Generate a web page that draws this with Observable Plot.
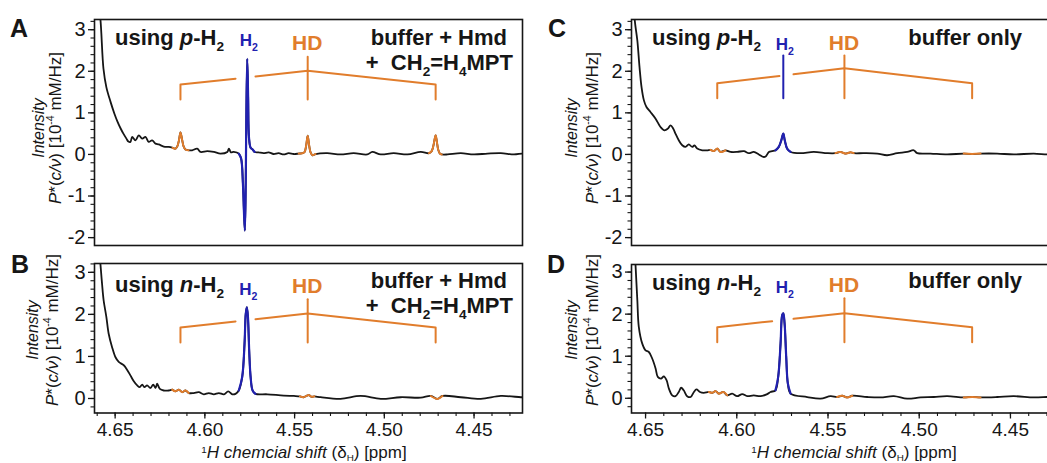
<!DOCTYPE html>
<html><head><meta charset="utf-8">
<script src="https://cdn.jsdelivr.net/npm/d3@7"></script>
<script src="https://cdn.jsdelivr.net/npm/@observablehq/plot@0.6"></script>
<style>
html,body{margin:0;padding:0;background:#fff;overflow:hidden;}
#root{position:relative;width:1047px;height:463px;overflow:hidden;font-family:"Liberation Sans",Arial,sans-serif;}
#root svg{position:absolute;}
</style></head><body><div id="root"></div>
<script>
// ---------- data (ppm, intensity) ----------
const specA = [
[4.6600,3.90],[4.6582,3.25],[4.6565,2.06],[4.6549,1.62],[4.6526,1.27],[4.6504,0.98],[4.6487,0.79],[4.6470,0.63],[4.6454,0.50],[4.6437,0.38],[4.6426,0.31],[4.6415,0.30],
[4.6405,0.42],[4.6387,0.34],[4.6368,0.46],[4.6349,0.38],[4.6331,0.42],[4.6313,0.30],[4.6294,0.34],[4.6275,0.26],[4.6257,0.24],[4.6229,0.19],[4.6201,0.18],
[4.6180,0.16],[4.6164,0.14],[4.6153,0.20],[4.6144,0.35],[4.6136,0.53],[4.6127,0.36],[4.6119,0.20],[4.6108,0.12],[4.6091,0.10],
[4.6071,0.10],[4.6043,0.14],[4.6024,0.06],[4.5987,0.08],[4.5950,0.06],[4.5913,0.02],[4.5875,0.06],[4.5866,0.14],[4.5855,0.05],[4.5839,0.06],[4.5811,0.02],
[4.5798,-0.10],[4.5788,-0.70],[4.5782,-1.40],[4.5777,-1.83],[4.5772,-0.60],[4.5769,0.90],[4.5764,2.30],[4.5759,1.40],[4.5754,0.40],[4.5745,0.16],[4.5734,0.12],[4.5723,0.06],
[4.5701,0.05],[4.5673,0.03],[4.5645,0.05],[4.5617,0.01],[4.5589,0.03],[4.5561,0.00],[4.5533,0.03],[4.5505,0.01],[4.5477,0.02],[4.5456,0.03],
[4.5444,0.06],[4.5436,0.20],[4.5427,0.45],[4.5419,0.22],[4.5411,0.05],[4.5400,-0.02],[4.5383,0.01],
[4.5318,0.03],[4.5244,0.00],[4.5171,0.03],[4.5095,0.00],[4.5067,0.06],[4.5020,0.00],[4.4948,0.03],[4.4871,0.00],[4.4797,0.06],[4.4751,0.03],
[4.4736,0.08],[4.4727,0.20],[4.4720,0.36],[4.4714,0.46],[4.4707,0.30],[4.4700,0.12],[4.4690,0.02],[4.4680,0.00],
[4.4648,0.00],[4.4574,0.03],[4.4502,0.00],[4.4425,0.02],[4.4351,0.03],[4.4277,0.00],[4.4230,0.02],[4.4220,0.01]
];
const specB = [
[4.6600,4.20],[4.6582,3.20],[4.6573,2.73],[4.6564,2.33],[4.6549,1.94],[4.6536,1.54],[4.6517,1.22],[4.6498,0.98],[4.6480,0.87],[4.6452,0.79],[4.6433,0.68],[4.6415,0.55],[4.6396,0.41],[4.6377,0.31],[4.6363,0.27],[4.6349,0.33],[4.6337,0.27],[4.6322,0.31],[4.6303,0.25],[4.6288,0.33],[4.6275,0.25],[4.6266,0.35],[4.6251,0.23],[4.6229,0.19],[4.6201,0.19],
[4.6182,0.21],[4.6164,0.17],[4.6145,0.21],[4.6126,0.15],[4.6108,0.19],[4.6090,0.13],
[4.6062,0.13],[4.6034,0.15],[4.6006,0.10],[4.5978,0.13],[4.5950,0.10],[4.5922,0.13],[4.5894,0.10],[4.5870,0.17],[4.5847,0.10],[4.5829,0.11],
[4.5811,0.19],[4.5792,0.51],[4.5779,1.30],[4.5772,2.02],[4.5766,2.17],[4.5760,1.94],[4.5753,1.14],[4.5745,0.51],[4.5734,0.19],[4.5718,0.11],
[4.5652,0.10],[4.5560,0.07],[4.5504,0.06],
[4.5470,0.05],[4.5450,0.03],[4.5435,0.06],[4.5420,0.08],[4.5405,0.04],[4.5390,0.05],
[4.5355,0.03],[4.5244,-0.01],[4.5132,0.06],[4.5020,-0.01],[4.4909,0.03],[4.4797,0.02],[4.4741,0.06],[4.4704,-0.01],[4.4676,0.06],[4.4574,0.03],[4.4462,-0.01],[4.4351,0.06],[4.4239,0.03],[4.4220,0.03]
];
const specC = [
[4.6575,4.20],[4.6559,3.22],[4.6545,2.74],[4.6533,2.10],[4.6522,1.62],[4.6509,1.30],[4.6495,1.14],[4.6473,1.02],[4.6445,0.86],[4.6418,0.66],[4.6396,0.58],[4.6378,0.62],[4.6363,0.70],[4.6348,0.62],[4.6336,0.50],[4.6318,0.34],[4.6299,0.22],[4.6281,0.18],[4.6263,0.24],[4.6244,0.18],[4.6232,0.22],[4.6217,0.14],[4.6189,0.10],[4.6162,0.10],
[4.6144,0.11],[4.6126,0.08],[4.6107,0.14],[4.6089,0.06],[4.6062,0.10],
[4.6034,0.06],[4.5998,0.06],[4.5961,0.08],[4.5934,0.03],[4.5907,0.06],[4.5879,0.00],[4.5855,-0.06],[4.5842,-0.05],[4.5824,0.06],[4.5806,0.08],
[4.5788,0.10],[4.5770,0.18],[4.5756,0.34],[4.5745,0.50],[4.5737,0.34],[4.5724,0.14],[4.5705,0.06],
[4.5651,0.03],[4.5578,0.06],[4.5504,0.03],
[4.5459,0.03],[4.5432,0.06],[4.5404,0.02],[4.5377,0.05],[4.5359,0.03],
[4.5304,0.03],[4.5230,0.02],[4.5176,-0.02],[4.5121,0.03],[4.5066,0.06],[4.5030,0.10],[4.5011,0.03],[4.4938,0.02],[4.4847,0.00],
[4.4756,0.02],[4.4710,0.01],[4.4664,0.02],
[4.4573,0.02],[4.4482,0.00],[4.4372,0.02],[4.4299,0.00],[4.4280,0.01]
];
const specD = [
[4.6570,4.30],[4.6555,3.17],[4.6545,2.33],[4.6537,1.70],[4.6518,1.30],[4.6500,1.14],[4.6482,1.10],[4.6463,0.94],[4.6445,0.71],[4.6433,0.51],[4.6414,0.47],[4.6400,0.52],[4.6385,0.43],[4.6372,0.23],[4.6354,0.07],[4.6336,0.05],[4.6318,0.15],[4.6305,0.25],[4.6291,0.19],[4.6272,0.05],[4.6253,0.03],[4.6235,0.15],[4.6221,0.21],[4.6202,0.15],[4.6181,0.13],
[4.6153,0.15],[4.6135,0.13],[4.6116,0.17],[4.6098,0.11],[4.6074,0.15],[4.6052,0.07],
[4.6025,0.11],[4.5998,0.05],[4.5970,0.10],[4.5943,0.05],[4.5907,0.07],[4.5870,0.05],[4.5833,0.10],[4.5815,0.15],
[4.5788,0.19],[4.5773,0.51],[4.5760,1.30],[4.5751,1.98],[4.5745,2.02],[4.5738,1.78],[4.5729,0.98],[4.5720,0.35],[4.5705,0.11],
[4.5614,0.03],[4.5541,-0.01],[4.5486,0.05],
[4.5450,0.03],[4.5422,0.06],[4.5395,0.02],[4.5367,0.06],
[4.5285,0.03],[4.5212,0.02],[4.5139,0.05],[4.5066,-0.01],[4.4993,0.02],[4.4920,0.03],[4.4847,0.05],
[4.4756,0.02],[4.4710,0.03],[4.4664,0.02],
[4.4573,0.03],[4.4482,0.05],[4.4372,0.02],[4.4299,0.03],[4.4280,0.03]
];

// HD triplet positions and H2 positions (ppm)
const hdA = [4.6136, 4.5427, 4.4714], h2A = 4.5764;
const hdB = [4.6136, 4.5427, 4.4714], h2B = 4.5766;
const hdC = [4.6107, 4.5410, 4.4710], h2C = 4.5745;
const hdD = [4.6107, 4.5410, 4.4710], h2D = 4.5745;
// bracket levels: foot, shoulder, apex, stem top
const bracketA = [1.32, 1.68, 2.01, 2.35];
const bracketB = [1.33, 1.69, 2.02, 2.36];
const bracketC = [1.35, 1.71, 2.07, 2.38];
const bracketD = [1.33, 1.69, 2.02, 2.38];
// bracket gap around H2 (ppm)
const gapA = [4.5829, 4.5718], gapB = [4.5829, 4.5718], gapC = [4.5766, 4.5689], gapD = [4.5806, 4.5689];
const h2StemC = [1.35, 2.38];

// ticks
const yTicksFull = [-2, -1, 0, 1, 2, 3];
const yTicksPos = [0, 1, 2, 3];
const yMinorAll = d3.range(-22, 33, 2).map(v => v / 10);
const xTicks = [4.65, 4.60, 4.55, 4.50, 4.45];
const xMinorAll = d3.range(442, 467).map(v => v / 100);

// ---------- styling / layout ----------
const ink = "#161616", orange = "#e17d2c", blue = "#2121b0";
const FONT = "Liberation Sans, Arial, sans-serif";

const panels = [
  {key:"A", spec:specA, hd:hdA, h2:h2A, br:bracketA, gap:gapA, stem:null,
   left:0, top:0, width:530, height:252, mL:94, mR:8, mT:19, mB:7,
   x:[4.6615, 4.4230], y:[-2.19, 3.245], yMajor:yTicksFull, xAxis:false,
   letter:[10,37], gas:"p", gasPos:[115,45], cond:[["buffer + Hmd"],["+  CH",{t:"2",sub:true},"=H",{t:"4",sub:true},"MPT"]], condPos:[[507,45],[513,70]],
   h2Y:46, hdY:50, ylab:{c:128, x1:44, x2:61}, xlab:null},
  {key:"B", spec:specB, hd:hdB, h2:h2B, br:bracketB, gap:gapB, stem:null,
   left:0, top:250, width:530, height:213, mL:94, mR:8, mT:13, mB:50.5,
   x:[4.6615, 4.4230], y:[-0.345, 3.21], yMajor:yTicksPos, xAxis:true,
   letter:[11,273], gas:"n", gasPos:[115,292], cond:[["buffer + Hmd"],["+  CH",{t:"2",sub:true},"=H",{t:"4",sub:true},"MPT"]], condPos:[[507,288],[513,313]],
   h2Y:295, hdY:293, ylab:{c:330, x1:38, x2:58}, xlab:[304,458]},
  {key:"C", spec:specC, hd:hdC, h2:h2C, br:bracketC, gap:gapC, stem:h2StemC,
   left:540, top:0, width:515, height:252, mL:91, mR:6, mT:19, mB:7,
   x:[4.6577, 4.4286], y:[-2.19, 3.245], yMajor:yTicksFull, xAxis:false,
   letter:[548,37], gas:"p", gasPos:[652,45], cond:[["buffer only"]], condPos:[[1022,45]],
   h2Y:50, hdY:50, ylab:{c:128, x1:577, x2:598}, xlab:null},
  {key:"D", spec:specD, hd:hdD, h2:h2D, br:bracketD, gap:gapD, stem:null,
   left:540, top:250, width:515, height:213, mL:91, mR:6, mT:14, mB:50.5,
   x:[4.6577, 4.4286], y:[-0.35, 3.18], yMajor:yTicksPos, xAxis:true,
   letter:[547,273], gas:"n", gasPos:[652,290], cond:[["buffer only"]], condPos:[[1022,288]],
   h2Y:293, hdY:292, ylab:{c:330, x1:577, x2:598}, xlab:[854,458]}
];

const root = document.getElementById("root");
const overlay = d3.create("svg").attr("width", 1047).attr("height", 463)
  .style("left", "0px").style("top", "0px").style("font-family", FONT).style("pointer-events", "none");

function rich(x, y, parts, o) {
  const size = o.size;
  const t = overlay.append("text").attr("x", x).attr("y", y)
    .attr("font-size", size).attr("font-weight", o.weight || "normal")
    .attr("font-style", o.italic ? "italic" : "normal")
    .attr("text-anchor", o.anchor || "start").attr("fill", o.fill || ink)
    .style("white-space", "pre");
  if (o.transform) t.attr("transform", o.transform);
  let shift = 0;
  for (const p of parts) {
    const s = typeof p === "string" ? {t: p} : p;
    const ts = t.append("tspan").text(s.t);
    const target = s.sub ? size * (o.subShift || 0.28) : s.sup ? -size * (o.supShift || 0.42) : 0;
    if (target - shift !== 0) ts.attr("dy", target - shift);
    shift = target;
    if (s.sub || s.sup) ts.attr("font-size", size * (o.subScale || 0.62));
    if (s.i !== undefined) ts.attr("font-style", s.i ? "italic" : "normal");
  }
  return t;
}

const X = d => d[0], Y = d => d[1];
function colored(spec, centers, hw) {
  return centers.flatMap((c, i) => spec.filter(d => Math.abs(d[0] - c) <= hw).map(d => ({x: d[0], y: d[1], z: i})));
}

for (const P of panels) {
  const xmin = Math.min(...P.x), xmax = Math.max(...P.x);
  const ymin = Math.min(...P.y), ymax = Math.max(...P.y);
  const yMinor = yMinorAll.filter(v => v >= ymin && v <= ymax);
  const xMinor = xMinorAll.filter(v => v >= xmin && v <= xmax);
  const [l, c, r] = P.hd;
  const [foot, sh, apex, stemTop] = P.br;
  const yAt = g => sh + (apex - sh) * (l - g) / (l - c);
  const bracket = [
    [[l, foot], [l, sh], [P.gap[0], yAt(P.gap[0])]],
    [[P.gap[1], yAt(P.gap[1])], [c, apex], [r, sh], [r, foot]],
    [[c, foot], [c, stemTop]]
  ].flatMap((seg, i) => seg.map(p => ({x: p[0], y: p[1], z: i})));

  const marks = [
    Plot.axisY({ticks: P.yMajor, tickSize: 6, tickPadding: 3, fontSize: 20, tickFormat: d => String(d), label: null, strokeWidth: 1.3}),
    Plot.axisY({ticks: yMinor, tickSize: 3.5, tickFormat: () => "", label: null, strokeWidth: 1.1}),
  ];
  if (P.xAxis) {
    marks.push(
      Plot.axisX({ticks: xTicks, tickSize: 6, tickPadding: 3, fontSize: 19, tickFormat: d => d.toFixed(2), label: null, strokeWidth: 1.3}),
      Plot.axisX({ticks: xMinor, tickSize: 3.5, tickFormat: () => "", label: null, strokeWidth: 1.1})
    );
  }
  marks.push(
    Plot.line(bracket, {x: "x", y: "y", z: "z", stroke: orange, strokeWidth: 2}),
    Plot.line(P.spec, {x: X, y: Y, stroke: ink, strokeWidth: 1.8, curve: "catmull-rom", clip: true}),
    Plot.line(colored(P.spec, P.hd, 0.0055), {x: "x", y: "y", z: "z", stroke: orange, strokeWidth: 2, curve: "catmull-rom", clip: true}),
    Plot.line(colored(P.spec, [P.h2], 0.0055), {x: "x", y: "y", z: "z", stroke: blue, strokeWidth: 2.2, curve: "catmull-rom", clip: true}),
    Plot.frame({stroke: ink, strokeWidth: 1.6})
  );
  if (P.stem) {
    marks.push(Plot.line([[P.h2, P.stem[0]], [P.h2, P.stem[1]]], {x: X, y: Y, stroke: blue, strokeWidth: 2}));
  }

  const plot = Plot.plot({
    width: P.width, height: P.height,
    marginLeft: P.mL, marginRight: P.mR, marginTop: P.mT, marginBottom: P.mB,
    style: {fontFamily: FONT, color: ink, background: "transparent", overflow: "visible"},
    x: {domain: P.x, axis: P.xAxis ? undefined : null},
    y: {domain: P.y},
    marks
  });
  plot.style.left = P.left + "px";
  plot.style.top = P.top + "px";
  root.appendChild(plot);

  const sx = v => P.left + plot.scale("x").apply(v);

  // panel letter
  rich(P.letter[0], P.letter[1], [P.key], {size: 25, weight: "bold"});
  // gas text
  rich(P.gasPos[0], P.gasPos[1], ["using ", {t: P.gas, i: true}, "-H", {t: "2", sub: true}], {size: 22, weight: "bold"});
  // condition text
  P.cond.forEach((parts, i) => rich(P.condPos[i][0], P.condPos[i][1], parts, {size: 22, weight: "bold", anchor: "end"}));
  // H2 and HD labels
  rich(sx(P.h2) + 2, P.h2Y, ["H", {t: "2", sub: true}], {size: 17, weight: "bold", anchor: "middle", fill: blue});
  rich(sx(P.hd[1]), P.hdY, ["HD"], {size: 21, weight: "bold", anchor: "middle", fill: orange});
  // y labels
  rich(0, 0, ["Intensity"], {size: 16, italic: true, anchor: "middle", transform: `translate(${P.ylab.x1},${P.ylab.c}) rotate(-90)`});
  rich(0, 0, [{t: "P", i: true}, "*(", {t: "c/ν", i: true}, ") [10", {t: "-4", sup: true}, " mM/Hz]"],
       {size: 17, anchor: "middle", transform: `translate(${P.ylab.x2},${P.ylab.c}) rotate(-90)`});
  // x label
  if (P.xlab) {
    rich(P.xlab[0], P.xlab[1], [{t: "1", sup: true}, {t: "H chemcial shift", i: true}, " (δ", {t: "H", sub: true}, ") [ppm]"],
         {size: 17, anchor: "middle", supShift: 0.3, subShift: 0.15, subScale: 0.58});
  }
}
root.appendChild(overlay.node());
</script></body></html>
